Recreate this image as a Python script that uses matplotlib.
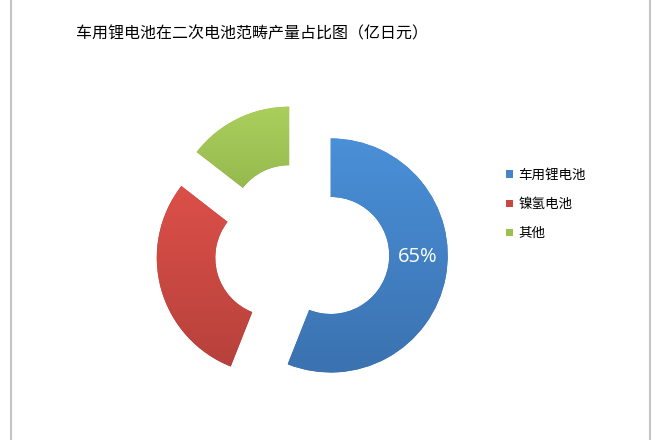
import matplotlib
matplotlib.use('Agg')
import matplotlib.pyplot as plt
import numpy as np
from matplotlib.patches import Patch
from matplotlib.lines import Line2D
from matplotlib.colors import LinearSegmentedColormap

plt.rcParams['font.family'] = ['Noto Sans CJK SC', 'DejaVu Sans']

title = '车用锂电池在二次电池范畴产量占比图（亿日元）'
categories = ['车用锂电池', '镍氢电池', '其他']
values = [56, 29.5, 14.5]
value_labels = ['65%', '', '']
colors_top = ['#4A90D8', '#DB5048', '#ABCF5C']
colors_bot = ['#3B72B0', '#B7413C', '#8DB049']
legend_colors = ['#4584CA', '#C9473F', '#9CBF52']

W, H = 660, 440
fig = plt.figure(figsize=(W / 100, H / 100), dpi=100)
ax = fig.add_axes([0, 0, 1, 1])

R_PX = 117.0
CX, CY = 302.0, 250.0

wedges, _ = ax.pie(values, startangle=90, counterclock=False,
                   explode=[0.25] * len(values), radius=1,
                   wedgeprops=dict(width=0.5, linewidth=0))

for w, ct, cb in zip(wedges, colors_top, colors_bot):
    w.set_facecolor(cb)
    verts = w.get_path().vertices
    x0, y0 = verts.min(axis=0)
    x1, y1 = verts.max(axis=0)
    cmap = LinearSegmentedColormap.from_list('g', [ct, cb])
    grad = np.linspace(0, 1, 256).reshape(-1, 1)
    im = ax.imshow(grad, cmap=cmap, extent=[x0, x1, y0, y1], origin='upper',
                   aspect='auto', zorder=3, interpolation='bilinear')
    im.set_clip_path(w)

for w, lab in zip(wedges, value_labels):
    if lab:
        cx, cy = w.center
        ax.text(cx + 0.74, cy - 0.01, lab, color='white', fontsize=14.5,
                ha='center', va='center', zorder=5, fontweight='medium',
                family=['Open Sans', 'DejaVu Sans'])

ax.set_xlim(-CX / R_PX, (W - CX) / R_PX)
ax.set_ylim(-(H - CY) / R_PX, CY / R_PX)
ax.set_aspect('auto')
ax.axis('off')

fig.text(252 / W, 1 - 34 / H, title, fontsize=11.5, ha='center', va='center',
         fontweight='medium')

handles = [Patch(facecolor=c, edgecolor='none') for c in legend_colors]
fig.legend(handles, categories, loc='upper left',
           bbox_to_anchor=(506 / W, 1 - 168 / H), frameon=False,
           fontsize=9.75, handlelength=0.5, handleheight=0.5,
           handletextpad=0.4, labelspacing=1.12, borderpad=0,
           borderaxespad=0)

for xp in (11, 650):
    fig.add_artist(Line2D([xp / W, xp / W], [0, 1], color='#c4c4c4', lw=1.5))

fig.savefig('out.png', dpi=100)
